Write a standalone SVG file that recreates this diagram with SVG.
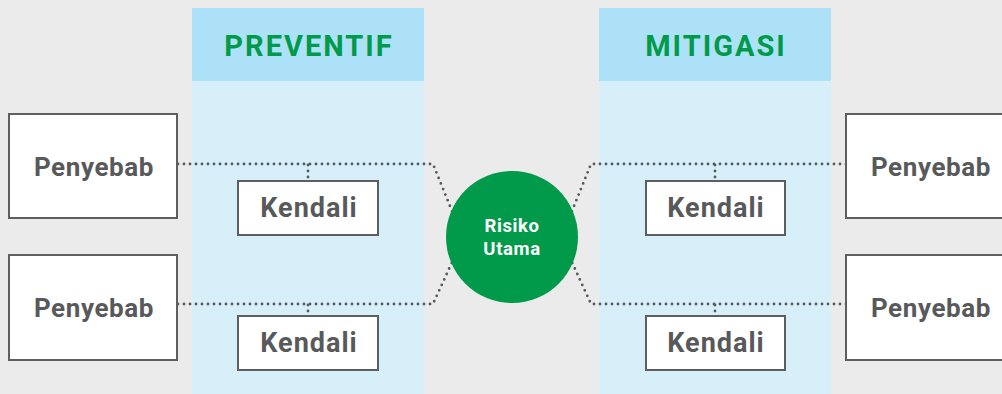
<svg xmlns="http://www.w3.org/2000/svg" width="1002" height="394" viewBox="0 0 1002 394">
<style>
.bg{fill:#ebebeb}
.colhead{fill:#ade1f7}
.colbody{fill:#d7eff9}
.box{fill:#ffffff;stroke:#5d5e60;stroke-width:2}
.lbl{font-family:Roboto,"Liberation Sans",sans-serif;font-weight:700;fill:#58595b;text-anchor:middle}
.pen{font-size:26px;letter-spacing:0.6px}
.ken{font-size:27px;letter-spacing:1px}
.head{font-family:Roboto,"Liberation Sans",sans-serif;font-weight:700;fill:#009a4a;font-size:29px;letter-spacing:2px;text-anchor:middle}
.dot{fill:none;stroke:#58595b;stroke-width:2.8;stroke-linecap:round;stroke-dasharray:0 6}
.risk{font-family:Roboto,"Liberation Sans",sans-serif;font-weight:700;fill:#ffffff;font-size:18.5px;letter-spacing:0.6px;text-anchor:middle}
</style>
<rect class="bg" x="0" y="0" width="1002" height="394"/>
<g id="col-preventif">
<rect class="colbody" x="192" y="81" width="232" height="313"/>
<rect class="colhead" x="192" y="8" width="232" height="73"/>
<text class="head" x="309" y="56">PREVENTIF</text>
</g>
<g id="col-mitigasi">
<rect class="colbody" x="599" y="81" width="232" height="313"/>
<rect class="colhead" x="599" y="8" width="232" height="73"/>
<text class="head" x="716" y="56">MITIGASI</text>
</g>
<g id="connectors">
<path class="dot" d="M178,164 H433 L454,216"/>
<path class="dot" d="M178,304 H433 L454,258"/>
<path class="dot" d="M846,164 H591 L570,216"/>
<path class="dot" d="M846,304 H591 L570,258"/>
<path class="dot" d="M308,165 V181"/>
<path class="dot" d="M308,305 V316"/>
<path class="dot" d="M715,165 V181"/>
<path class="dot" d="M715,305 V316"/>
</g>
<g id="penyebab-l1">
<rect class="box" x="9" y="114" width="168" height="104"/>
<text class="lbl pen" x="94" y="176">Penyebab</text>
</g>
<g id="penyebab-l2">
<rect class="box" x="9" y="255" width="168" height="105"/>
<text class="lbl pen" x="94" y="317">Penyebab</text>
</g>
<g id="penyebab-r1">
<rect class="box" x="846" y="114" width="170" height="104"/>
<text class="lbl pen" x="931" y="176">Penyebab</text>
</g>
<g id="penyebab-r2">
<rect class="box" x="846" y="255" width="170" height="105"/>
<text class="lbl pen" x="931" y="317">Penyebab</text>
</g>
<g id="kendali-l1">
<rect class="box" x="238" y="181" width="140" height="54"/>
<text class="lbl ken" x="309" y="217">Kendali</text>
</g>
<g id="kendali-l2">
<rect class="box" x="238" y="316" width="140" height="54"/>
<text class="lbl ken" x="309" y="352">Kendali</text>
</g>
<g id="kendali-r1">
<rect class="box" x="646" y="181" width="139" height="54"/>
<text class="lbl ken" x="716" y="217">Kendali</text>
</g>
<g id="kendali-r2">
<rect class="box" x="646" y="316" width="139" height="54"/>
<text class="lbl ken" x="716" y="352">Kendali</text>
</g>
<g id="risiko-utama">
<circle cx="512" cy="237" r="66" fill="#009a4a"/>
<text class="risk" x="512" y="232">Risiko</text>
<text class="risk" x="512" y="255">Utama</text>
</g>
</svg>
